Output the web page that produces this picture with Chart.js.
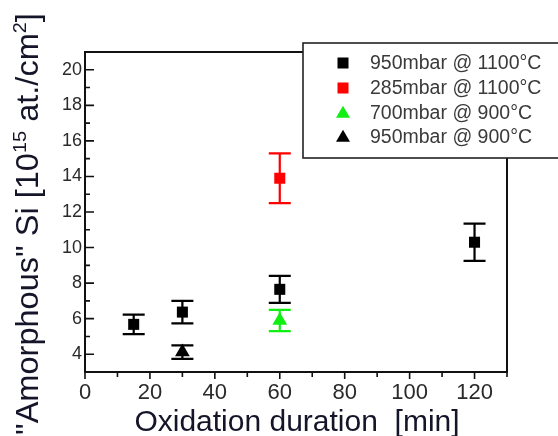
<!DOCTYPE html>
<html><head><meta charset="utf-8">
<script src="https://cdn.jsdelivr.net/npm/chart.js@4/dist/chart.umd.min.js"></script>
<style>html,body{margin:0;padding:0;background:#fff;}canvas{display:block;}</style>
</head><body>
<canvas id="c" width="558" height="436"></canvas>
<script>
const seriesNames = ['950mbar @ 1100°C', '285mbar @ 1100°C', '700mbar @ 900°C', '950mbar @ 900°C'];
const s1x = [15, 30, 60, 120];
const s1y = [5.68, 6.37, 7.65, 10.3];
const s1err = [0.55, 0.63, 0.76, 1.05];
const s2x = [60];
const s2y = [13.9];
const s2err = [1.4];
const s3x = [60];
const s3y = [5.9];
const s3err = [0.6];
const s4x = [30];
const s4y = [4.12];
const s4err = [0.38];
const xTickLabels = [0, 20, 40, 60, 80, 100, 120];
const yTickLabels = [4, 6, 8, 10, 12, 14, 16, 18, 20];

const FONT = '"Liberation Sans", Arial, sans-serif';
const seriesX = [s1x, s2x, s3x, s4x];
const seriesY = [s1y, s2y, s3y, s4y];
const seriesErr = [s1err, s2err, s3err, s4err];
const colors = ['#000000', '#ff0000', '#11ee11', '#000000'];
const styles = ['rect', 'rect', 'triangle', 'triangle'];

function pts(xs, ys) { return xs.map((x, i) => ({x: x, y: ys[i]})); }

function drawMarker(ctx, style, x, y, size, color) {
  ctx.fillStyle = color;
  if (style === 'rect') {
    ctx.fillRect(x - size / 2, y - size / 2, size, size);
  } else {
    const h = size * 0.87;
    ctx.beginPath();
    ctx.moveTo(x, y - h * 0.6);
    ctx.lineTo(x + size / 2, y + h * 0.4);
    ctx.lineTo(x - size / 2, y + h * 0.4);
    ctx.closePath();
    ctx.fill();
  }
}

const custom = {
  id: 'custom',
  beforeDatasetsDraw(chart) {
    const ctx = chart.ctx, xs = chart.scales.x, ys = chart.scales.y;
    ctx.save();
    for (let d = 0; d < seriesX.length; d++) {
      ctx.strokeStyle = colors[d];
      ctx.lineWidth = 2.2;
      for (let j = 0; j < seriesX[d].length; j++) {
        const px = xs.getPixelForValue(seriesX[d][j]);
        const t = ys.getPixelForValue(seriesY[d][j] + seriesErr[d][j]);
        const b = ys.getPixelForValue(seriesY[d][j] - seriesErr[d][j]);
        ctx.beginPath();
        ctx.moveTo(px, t); ctx.lineTo(px, b);
        ctx.moveTo(px - 11, t); ctx.lineTo(px + 11, t);
        ctx.moveTo(px - 11, b); ctx.lineTo(px + 11, b);
        ctx.stroke();
      }
    }
    ctx.restore();
  },
  afterDraw(chart) {
    const ctx = chart.ctx, a = chart.chartArea, xs = chart.scales.x, ys = chart.scales.y;
    ctx.save();
    // frame
    ctx.strokeStyle = '#111';
    ctx.lineWidth = 2;
    ctx.strokeRect(a.left, a.top, a.right - a.left, a.bottom - a.top);
    // y ticks (inward)
    ctx.lineWidth = 1.6;
    ctx.beginPath();
    for (let i = 0; i < yTickLabels.length; i++) {
      const py = ys.getPixelForValue(yTickLabels[i]);
      ctx.moveTo(a.left, py); ctx.lineTo(a.left + 9, py);
      const pm = ys.getPixelForValue(yTickLabels[i] + 1);
      ctx.moveTo(a.left, pm); ctx.lineTo(a.left + 5, pm);
    }
    const p3 = ys.getPixelForValue(yTickLabels[0] - 1);
    ctx.moveTo(a.left, p3); ctx.lineTo(a.left + 5, p3);
    // x ticks (outward)
    for (let i = 0; i < xTickLabels.length; i++) {
      const px = xs.getPixelForValue(xTickLabels[i]);
      ctx.moveTo(px, a.bottom); ctx.lineTo(px, a.bottom + 7);
      const pm = xs.getPixelForValue(xTickLabels[i] + 10);
      ctx.moveTo(pm, a.bottom); ctx.lineTo(pm, a.bottom + 5);
    }
    ctx.stroke();

    // titles
    ctx.fillStyle = '#15152a';
    ctx.font = '30px ' + FONT;
    ctx.textAlign = 'center';
    ctx.textBaseline = 'alphabetic';
    ctx.fillText('Oxidation duration  [min]', 297, 431);

    ctx.save();
    ctx.translate(38, 224);
    ctx.rotate(-Math.PI / 2);
    ctx.scale(1.05, 1);
    const segs = [['"Amorphous" Si [10', false], ['15', true], [' at./cm', false], ['2', true], [']', false]];
    let total = 0;
    segs.forEach(s => { ctx.font = (s[1] ? '19px ' : '31px ') + FONT; total += ctx.measureText(s[0]).width; });
    let cx = -total / 2;
    ctx.textAlign = 'left';
    segs.forEach(s => {
      ctx.font = (s[1] ? '19px ' : '31px ') + FONT;
      ctx.fillText(s[0], cx, s[1] ? -12 : 0);
      cx += ctx.measureText(s[0]).width;
    });
    ctx.restore();

    // legend
    ctx.fillStyle = '#fff';
    ctx.fillRect(303, 43, 262, 115);
    ctx.strokeStyle = '#222';
    ctx.lineWidth = 1.6;
    ctx.strokeRect(303, 43, 262, 115);
    const rows = [63, 88, 113, 137];
    ctx.font = '19.5px ' + FONT;
    ctx.textAlign = 'left';
    ctx.textBaseline = 'middle';
    for (let i = 0; i < seriesNames.length; i++) {
      drawMarker(ctx, styles[i], 343, rows[i], styles[i] === 'rect' ? 11 : 14, colors[i]);
      ctx.fillStyle = '#3a3a3a';
      ctx.fillText(seriesNames[i], 370, rows[i] + 1);
    }
    ctx.restore();
  }
};

const datasets = seriesNames.map((n, i) => ({
  label: n,
  data: pts(seriesX[i], seriesY[i]),
  pointStyle: styles[i],
  pointRadius: styles[i] === 'rect' ? 7.8 : 8.5,
  pointHoverRadius: styles[i] === 'rect' ? 7.8 : 8.5,
  backgroundColor: colors[i],
  borderColor: colors[i],
  pointBorderWidth: 0,
  showLine: false
}));

new Chart(document.getElementById('c'), {
  type: 'scatter',
  data: { datasets: datasets },
  options: {
    responsive: false,
    animation: false,
    events: [],
    layout: { padding: { left: 0, top: 52, right: 51, bottom: 0 } },
    plugins: { legend: { display: false }, tooltip: { enabled: false } },
    scales: {
      x: {
        type: 'linear', min: 0, max: 130,
        afterBuildTicks: s => { s.ticks = xTickLabels.map(v => ({value: v})); },
        afterFit: s => { s.height = 64; },
        grid: { display: false, drawTicks: false },
        border: { display: false },
        ticks: { padding: 8, color: '#2a2a2a', font: { family: FONT, size: 22 } }
      },
      y: {
        type: 'linear', min: 3, max: 21,
        afterBuildTicks: s => { s.ticks = yTickLabels.map(v => ({value: v})); },
        afterFit: s => { s.width = 85; },
        grid: { display: false, drawTicks: false },
        border: { display: false },
        ticks: { padding: 3, color: '#2a2a2a', font: { family: FONT, size: 18 } }
      }
    }
  },
  plugins: [custom]
});
</script>
</body></html>
